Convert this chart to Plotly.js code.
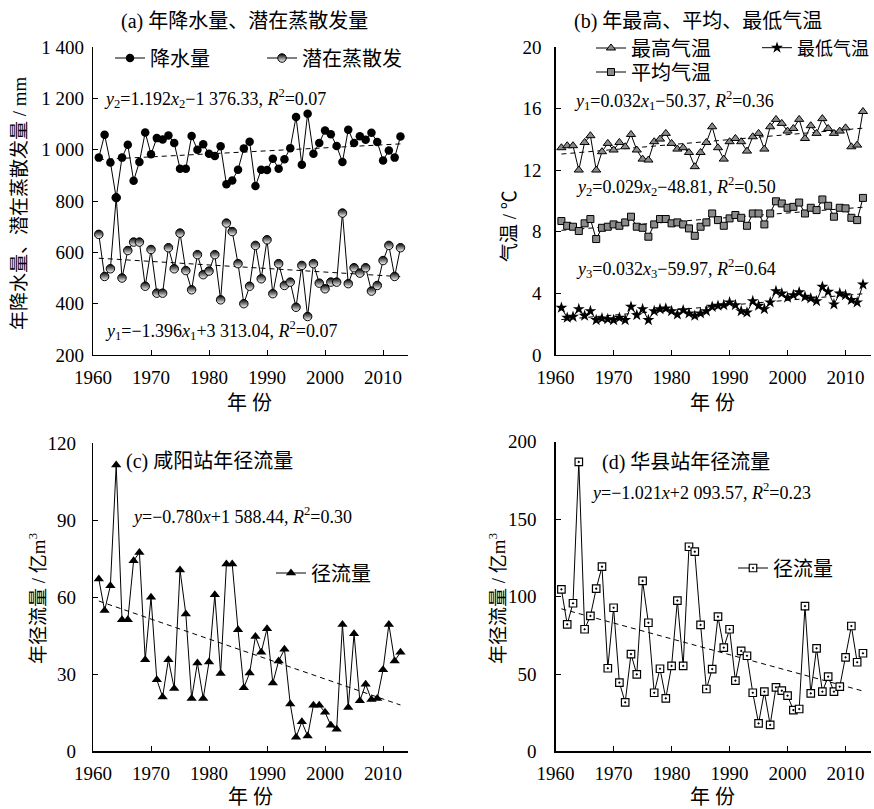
<!DOCTYPE html>
<html><head><meta charset="utf-8">
<script src="https://cdn.plot.ly/plotly-3.0.1.min.js"></script>
<style>html,body{margin:0;padding:0;background:#fff}</style>
</head><body><div id="chart" style="width:874px;height:809px"></div>
<script>
// ---------------- data ----------------
const years = [1961,1962,1963,1964,1965,1966,1967,1968,1969,1970,
  1971,1972,1973,1974,1975,1976,1977,1978,1979,1980,
  1981,1982,1983,1984,1985,1986,1987,1988,1989,1990,
  1991,1992,1993,1994,1995,1996,1997,1998,1999,2000,
  2001,2002,2003,2004,2005,2006,2007,2008,2009,2010,
  2011,2012,2013];

// (a) annual precipitation (filled circles) and potential evapotranspiration (half circles), mm
const precip = [969,1058,950,813,969,1019,879,952,1067,982,
  1045,1040,1055,1026,926,926,1053,1000,1021,984,
  975,1013,865,880,922,1005,1031,858,922,921,
  965,926,963,1006,1127,941,1140,984,1026,1075,
  1060,1014,952,1078,1026,1052,1039,1066,1030,958,
  997,969,1051];
const evap = [670,506,536,813,500,607,640,640,468,611,
  441,441,618,536,675,529,454,591,513,527,
  591,415,714,681,556,400,468,627,497,649,
  439,556,471,484,386,549,350,556,480,458,
  484,484,753,478,540,519,540,449,471,568,
  627,506,618];

// (b) annual max / mean / min temperature, °C
const tMax = [13.46,13.59,13.59,12.01,13.80,14.24,12.01,13.20,13.74,13.31,
  13.80,13.52,14.32,13.31,12.72,12.66,13.85,14.02,14.39,13.74,
  13.37,13.46,13.15,12.23,13.15,13.80,14.82,13.46,12.72,13.85,
  14.06,13.85,13.24,14.17,14.39,13.37,14.82,15.30,15.04,14.54,
  14.71,15.30,14.06,14.89,14.39,15.35,14.71,14.39,14.54,14.75,
  13.52,13.63,15.81];
const tMean = [8.70,8.39,8.33,8.05,8.55,8.83,7.53,8.26,8.33,8.48,
  8.39,8.61,8.98,8.33,8.26,7.68,8.48,8.83,8.83,8.55,
  8.61,8.48,8.22,7.74,8.33,8.61,9.19,8.76,8.39,8.87,
  9.09,8.91,8.39,9.19,9.19,8.48,9.19,9.98,9.84,9.56,
  9.62,9.90,9.19,9.56,9.41,10.10,9.69,8.98,9.56,9.52,
  8.91,8.76,10.20];
const tMin = [3.07,2.42,2.48,2.98,2.55,2.85,2.27,2.38,2.33,2.27,
  2.42,2.27,3.13,2.59,2.98,2.27,2.85,2.98,3.02,2.85,
  2.63,2.91,2.70,2.55,2.70,2.85,3.13,3.20,3.24,3.42,
  3.24,2.85,2.76,3.50,3.20,2.98,3.42,4.15,4.00,3.72,
  3.89,4.07,3.78,3.68,3.50,4.43,4.11,3.29,4.00,3.89,
  3.57,3.42,4.58];

// (c) Xianyang station annual runoff, 10^8 m3
const runoffXY = [67.1,54.8,64.5,111.4,51.2,51.2,74.2,77.4,35.7,60.0,
  27.9,21.2,35.7,24.5,70.6,53.5,20.6,34.4,20.6,34.8,
  61.0,30.3,72.9,72.9,47.3,24.8,30.5,44.7,38.6,47.7,
  26.6,35.2,39.7,18.4,5.5,11.5,6.0,18.0,18.0,15.2,
  10.2,8.6,49.4,17.1,45.8,19.7,26.1,20.2,20.6,31.8,
  49.4,35.2,38.6];

// (d) Huaxian station annual runoff, 10^8 m3
const runoffHX = [104.7,82.1,95.7,187.0,78.9,87.5,105.1,119.3,53.7,92.8,
  44.4,31.7,62.9,49.8,110.1,83.1,37.9,53.4,34.3,55.2,
  97.4,55.2,132.2,129.0,81.7,40.3,53.2,87.0,67.0,78.9,
  45.7,64.9,61.8,37.9,18.1,38.6,17.1,41.4,39.2,36.0,
  26.7,27.4,93.9,37.5,66.6,38.6,48.3,38.6,41.8,60.8,
  81.0,57.6,63.4];

// tick labels
const xTickVals = [1960,1970,1980,1990,2000,2010];
const aTickVals = [200,400,600,800,1000,1200,1400];
const aTickText = ['200','400','600','800','1 000','1 200','1 400'];
const bTickVals = [0,4,8,12,16,20];
const cTickVals = [0,30,60,90,120];
const dTickVals = [0,50,100,150,200];

// ---------------- helpers ----------------
const W = 874, H = 809;
const FF = '"Liberation Serif", "Noto Sans CJK SC", serif';
const px = v => v / W;
const py = v => 1 - v / H;

function trendEnds(x, y) {
  const n = x.length;
  let mx = 0, my = 0;
  for (let i = 0; i < n; i++) { mx += x[i]; my += y[i]; }
  mx /= n; my /= n;
  let sxy = 0, sxx = 0;
  for (let i = 0; i < n; i++) { sxy += (x[i]-mx)*(y[i]-my); sxx += (x[i]-mx)*(x[i]-mx); }
  const b = sxy / sxx, a = my - b*mx;
  const x0 = x[0], x1 = x[n-1];
  return {x: [x0, x1], y: [a + b*x0, a + b*x1]};
}

const LINE = {color: '#000', width: 1};
function series(xa, ya, y, name, legend, marker) {
  return {x: years, y: y, xaxis: xa, yaxis: ya, type: 'scatter', mode: 'lines+markers',
    name: name, legend: legend, line: LINE, marker: marker, cliponaxis: false};
}
function trend(xa, ya, y) {
  const t = trendEnds(years, y);
  return {x: t.x, y: t.y, xaxis: xa, yaxis: ya, type: 'scatter', mode: 'lines',
    showlegend: false, line: {color: '#000', width: 1, dash: '5px,4px'}};
}

const traces = [
  trend('x','y', evap), trend('x','y', precip),
  series('x','y', evap, '潜在蒸散发', 'legend2',
    {symbol: 'circle', size: 8.5, color: '#000', gradient: {type: 'vertical', color: '#fff'}, line: {color: '#000', width: 1}}),
  series('x','y', precip, '降水量', 'legend',
    {symbol: 'circle', size: 8.5, color: '#000', line: {color: '#000', width: 0}}),

  trend('x2','y2', tMax), trend('x2','y2', tMean), trend('x2','y2', tMin),
  series('x2','y2', tMax, '最高气温', 'legend3',
    {symbol: 'triangle-up', size: 8, color: '#8a8a8a', line: {color: '#000', width: 1}}),
  series('x2','y2', tMin, '最低气温', 'legend4',
    {symbol: 'star', size: 9, color: '#000', line: {color: '#000', width: 0}}),
  series('x2','y2', tMean, '平均气温', 'legend5',
    {symbol: 'square', size: 7, color: '#8a8a8a', line: {color: '#000', width: 1}}),

  trend('x3','y3', runoffXY),
  series('x3','y3', runoffXY, '径流量', 'legend6',
    {symbol: 'triangle-up', size: 9, color: '#000', line: {color: '#000', width: 0}}),

  trend('x4','y4', runoffHX),
  series('x4','y4', runoffHX, '径流量', 'legend7',
    {symbol: 'square-dot', size: 7.5, color: '#fff', line: {color: '#000', width: 1.2}})
];

function xAxis(dom, anchor) {
  return {domain: dom, anchor: anchor, range: [1960, 2014.3], tickmode: 'array', tickvals: xTickVals,
    ticks: 'inside', ticklen: 5, tickwidth: 1, tickcolor: '#000', showline: true, linecolor: '#000', linewidth: 1.2,
    showgrid: false, zeroline: false, tickfont: {family: FF, size: 19, color: '#000'}, ticklabelstandoff: 5, fixedrange: true};
}
function yAxis(dom, anchor, range, vals, text, standoff) {
  const ax = {domain: dom, anchor: anchor, range: range, tickmode: 'array', tickvals: vals,
    ticks: 'inside', ticklen: 5, tickwidth: 1, tickcolor: '#000', showline: true, linecolor: '#000', linewidth: 1.2,
    showgrid: false, zeroline: false, tickfont: {family: FF, size: 19, color: '#000'}, ticklabelstandoff: standoff, fixedrange: true};
  if (text) ax.ticktext = text;
  return ax;
}

const domXL = [px(93), px(408)], domXR = [px(555.6), px(870.5)];
const domYT = [py(355), py(47)], domYB = [py(751.4), py(443)], domYBd = [py(751.4), py(441.8)];

function leg(x, y, size) {
  return {x: px(x), y: py(y), xanchor: 'left', yanchor: 'middle', orientation: 'v', bgcolor: 'rgba(0,0,0,0)',
    borderwidth: 0, font: {family: FF, size: size || 20, color: '#000'}};
}

function ann(text, x, y, opts) {
  return Object.assign({text: text, x: px(x), y: py(y), xref: 'paper', yref: 'paper', showarrow: false,
    xanchor: 'center', yanchor: 'middle', font: {family: FF, size: 20, color: '#000'}}, opts || {});
}
const EQF = {family: FF, size: 18, color: '#000'};
const YTF = {family: FF, size: 19, color: '#000'};

const annotations = [
  ann('(a) 年降水量、潜在蒸散发量', 244, 22),
  ann('(b) 年最高、平均、最低气温', 698, 22),
  ann('(c) 咸阳站年径流量', 124, 461, {xanchor: 'left'}),
  ann('(d) 华县站年径流量', 600, 462, {xanchor: 'left'}),
  ann('<i>y</i><sub>2</sub>=1.192<i>x</i><sub>2</sub>−1 376.33, <i>R</i><sup>2</sup>=0.07', 102, 98, {xanchor: 'left', font: EQF}),
  ann('<i>y</i><sub>1</sub>=−1.396<i>x</i><sub>1</sub>+3 313.04, <i>R</i><sup>2</sup>=0.07', 103, 330, {xanchor: 'left', font: EQF}),
  ann('<i>y</i><sub>1</sub>=0.032<i>x</i><sub>1</sub>−50.37, <i>R</i><sup>2</sup>=0.36', 572, 101, {xanchor: 'left', font: EQF}),
  ann('<i>y</i><sub>2</sub>=0.029<i>x</i><sub>2</sub>−48.81, <i>R</i><sup>2</sup>=0.50', 574, 186, {xanchor: 'left', font: EQF}),
  ann('<i>y</i><sub>3</sub>=0.032<i>x</i><sub>3</sub>−59.97, <i>R</i><sup>2</sup>=0.64', 574, 268, {xanchor: 'left', font: EQF}),
  ann('<i>y</i>=−0.780<i>x</i>+1 588.44, <i>R</i><sup>2</sup>=0.30', 130, 515, {xanchor: 'left', font: EQF}),
  ann('<i>y</i>=−1.021<i>x</i>+2 093.57, <i>R</i><sup>2</sup>=0.23', 589, 491, {xanchor: 'left', font: EQF}),
  ann('年 份', 249, 403), ann('年 份', 712, 403), ann('年 份', 250, 797), ann('年 份', 712, 797),
  ann('年降水量、潜在蒸散发量 / mm', 20, 203, {textangle: -90, font: YTF}),
  ann('气温 / ℃', 510, 226, {textangle: -90, font: YTF}),
  ann('年径流量 / 亿m<sup>3</sup>', 37, 598, {textangle: -90, font: YTF}),
  ann('年径流量 / 亿m<sup>3</sup>', 497, 598, {textangle: -90, font: YTF})
];

const layout = {
  width: W, height: H, margin: {l: 0, r: 0, t: 0, b: 0, autoexpand: false},
  paper_bgcolor: '#fff', plot_bgcolor: '#fff', font: {family: FF, color: '#000'},
  showlegend: true, hovermode: false,
  xaxis: xAxis(domXL, 'y'), yaxis: yAxis(domYT, 'x', [200, 1400], aTickVals, aTickText, 4),
  xaxis2: xAxis(domXR, 'y2'), yaxis2: yAxis(domYT, 'x2', [0, 20], bTickVals, null, 9),
  xaxis3: xAxis(domXL, 'y3'), yaxis3: yAxis(domYB, 'x3', [0, 120], cTickVals, null, 12),
  xaxis4: xAxis(domXR, 'y4'), yaxis4: yAxis(domYBd, 'x4', [0, 200], dTickVals, null, 14),
  legend: leg(110, 58), legend2: leg(262, 58),
  legend3: leg(591, 48), legend4: leg(757, 48, 18), legend5: leg(591, 72),
  legend6: leg(271, 573), legend7: leg(733, 568),
  annotations: annotations
};

Plotly.newPlot('chart', traces, layout, {staticPlot: true, displayModeBar: false});
</script>
</body></html>
